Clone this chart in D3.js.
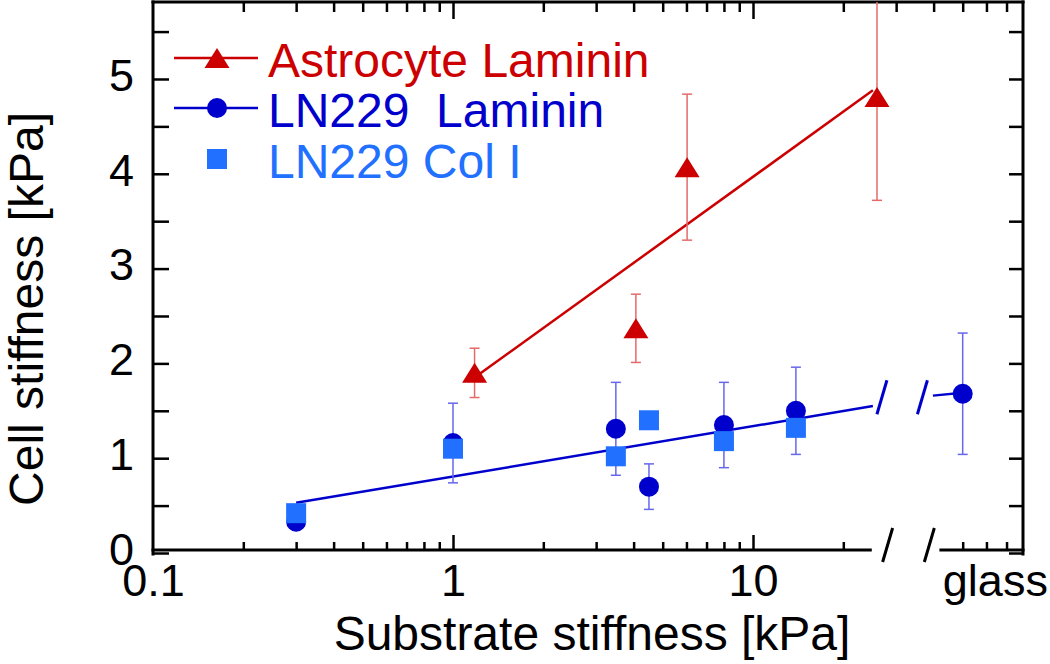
<!DOCTYPE html>
<html>
<head>
<meta charset="utf-8">
<script src="https://cdn.jsdelivr.net/npm/d3@7"></script>
<style>
  html, body { margin: 0; padding: 0; background: #fff; }
  svg { display: block; font-family: "Liberation Sans", Arial, Helvetica, sans-serif; }
</style>
</head>
<body>
<svg id="chart" width="1050" height="664"></svg>
<script>
// ---------- data ----------
const astroX   = [1.18, 4.07, 6.03, 25.9];
const astroY   = [1.90, 2.37, 4.07, 4.81];
const astroErr = [0.26, 0.36, 0.77, 1.09];

const lamX   = [0.3, 1, 3.49, 4.5, 8.0, 13.9, 50];
const lamY   = [0.33, 1.16, 1.31, 0.70, 1.35, 1.50, 1.68];
const lamErr = [0, 0.42, 0.49, 0.24, 0.45, 0.46, 0.64];

const colX = [0.3, 1, 3.49, 4.5, 8.0, 13.9];
const colY = [0.42, 1.10, 1.02, 1.40, 1.18, 1.32];

const astroFitX = [1.18, 25.1], astroFitY = [1.85, 4.88];
const lamFitX   = [0.3, 25.1],  lamFitY   = [0.53, 1.55];
const lamGlassFitX = [39.8, 50], lamGlassFitY = [1.66, 1.69];

const seriesNames = ["Astrocyte Laminin", "LN229  Laminin", "LN229 Col I"];

const yTickValues = [0, 0.5, 1, 1.5, 2, 2.5, 3, 3.5, 4, 4.5, 5, 5.5];
const xLabelValues = [0.1, 1, 10, 64];
const xLabelText   = ["0.1", "1", "10", "glass"];
const xMajorTicks  = [1, 10];
const xMinorTop    = [0.2,0.3,0.4,0.5,0.6,0.7,0.8,0.9,2,3,4,5,6,7,8,9,20,30,40,50,60,70];
const xMinorBottom = [0.2,0.3,0.4,0.5,0.6,0.7,0.8,0.9,2,3,4,5,6,7,8,9,20,50,60,70];
const axisBreakX   = [24.6, 42.3];       // gap in bottom axis
const axisSlashX   = [28.1, 38.7];       // break slashes on axis
const lineSlashX   = [26.9, 36.7];       // break slashes on LN229 line
const lineSlashY   = 1.58;

// ---------- colours ----------
const RED = "#cc0000", RED_ERR = "#e46a6a";
const BLUE = "#0000cc", BLUE_ERR = "#6767ec";
const LBLUE = "#2170ff";

// ---------- layout ----------
const L = 153, R = 1023, T = 2, B = 550;
const svg = d3.select("#chart");

const x = d3.scaleLog().domain([0.1, 79.43]).range([L, R]);
const y = d3.scaleLinear().domain([0.0316, 5.812]).range([B, T]);

svg.append("defs").append("clipPath").attr("id", "clip")
  .append("rect").attr("x", L).attr("y", T).attr("width", R - L).attr("height", B - T);

// ---------- axes / frame ----------
const axisColor = "#000";
// left axis ticks + labels
const gl = svg.append("g").attr("transform", `translate(${L},0)`)
  .call(d3.axisLeft(y).tickValues(yTickValues).tickSize(-16).tickPadding(19)
        .tickFormat(d => Number.isInteger(d) ? String(d) : ""));
gl.select(".domain").remove();
gl.selectAll(".tick line").attr("stroke", axisColor).attr("stroke-width", 2.5);
gl.selectAll(".tick text").attr("font-size", 45).attr("fill", "#000").attr("dy", "0.25em")
  .attr("font-family", "Liberation Sans, Arial, sans-serif");

// right axis ticks
const gr = svg.append("g").attr("transform", `translate(${R},0)`)
  .call(d3.axisRight(y).tickValues(yTickValues).tickSize(-14).tickFormat(""));
gr.select(".domain").remove();
gr.selectAll(".tick line").attr("stroke", axisColor).attr("stroke-width", 2.5);

// top axis ticks
const gtMin = svg.append("g").attr("transform", `translate(0,${T})`)
  .call(d3.axisTop(x).tickValues(xMinorTop).tickSize(-10).tickFormat(""));
const gtMaj = svg.append("g").attr("transform", `translate(0,${T})`)
  .call(d3.axisTop(x).tickValues(xMajorTicks).tickSize(-17).tickFormat(""));
[gtMin, gtMaj].forEach(g => {
  g.select(".domain").remove();
  g.selectAll(".tick line").attr("stroke", axisColor).attr("stroke-width", 2.5);
});

// bottom axis ticks
const gbMin = svg.append("g").attr("transform", `translate(0,${B})`)
  .call(d3.axisBottom(x).tickValues(xMinorBottom).tickSize(-8).tickFormat(""));
const gbMaj = svg.append("g").attr("transform", `translate(0,${B})`)
  .call(d3.axisBottom(x).tickValues(xMajorTicks).tickSize(-15).tickFormat(""));
[gbMin, gbMaj].forEach(g => {
  g.select(".domain").remove();
  g.selectAll(".tick line").attr("stroke", axisColor).attr("stroke-width", 2.5);
});
// bottom labels
const gbLab = svg.append("g").attr("transform", `translate(0,${B})`)
  .call(d3.axisBottom(x).tickValues(xLabelValues).tickSize(0).tickPadding(0)
        .tickFormat((d, i) => xLabelText[i]));
gbLab.select(".domain").remove();
gbLab.selectAll(".tick line").remove();
gbLab.selectAll(".tick text").attr("font-size", 45).attr("fill", "#000")
  .attr("dy", null).attr("y", 46)
  .attr("font-family", "Liberation Sans, Arial, sans-serif");

// frame
const frame = svg.append("g").attr("stroke", axisColor).attr("stroke-width", 3).attr("fill", "none")
  .attr("stroke-linecap", "square");
frame.append("line").attr("x1", L).attr("x2", R).attr("y1", T).attr("y2", T);
frame.append("line").attr("x1", L).attr("x2", L).attr("y1", T).attr("y2", y(0) + 1);
frame.append("line").attr("x1", R).attr("x2", R).attr("y1", T).attr("y2", y(0) + 1);
frame.append("line").attr("x1", L).attr("x2", x(axisBreakX[0])).attr("y1", B).attr("y2", B);
frame.append("line").attr("x1", x(axisBreakX[1])).attr("x2", R).attr("y1", B).attr("y2", B);
// axis break slashes
const slashes = svg.append("g").attr("stroke", axisColor).attr("stroke-width", 3);
axisSlashX.forEach(v => {
  const cx = x(v), cy = B - 5;
  slashes.append("line").attr("x1", cx - 5).attr("y1", cy + 17).attr("x2", cx + 5).attr("y2", cy - 17);
});

// axis titles
svg.append("text").attr("x", 592).attr("y", 650).attr("text-anchor", "middle")
  .attr("font-size", 48).attr("fill", "#000").text("Substrate stiffness [kPa]");
svg.append("text").attr("transform", "translate(43,309) rotate(-90)").attr("text-anchor", "middle")
  .attr("font-size", 48).attr("fill", "#000").text("Cell stiffness [kPa]");

// ---------- plot ----------
const plot = svg.append("g").attr("clip-path", "url(#clip)");
const line = d3.line().x(d => x(d[0])).y(d => y(d[1]));

// fit lines
plot.append("path").datum(d3.zip(astroFitX, astroFitY)).attr("d", line)
  .attr("stroke", RED).attr("stroke-width", 2.5).attr("fill", "none");
plot.append("path").datum(d3.zip(lamFitX, lamFitY)).attr("d", line)
  .attr("stroke", BLUE).attr("stroke-width", 2.5).attr("fill", "none");
plot.append("path").datum(d3.zip(lamGlassFitX, lamGlassFitY)).attr("d", line)
  .attr("stroke", BLUE).attr("stroke-width", 2.5).attr("fill", "none");
// line break slashes
lineSlashX.forEach(v => {
  const cx = x(v), cy = y(lineSlashY) - 6;
  plot.append("line").attr("x1", cx - 5).attr("y1", cy + 17).attr("x2", cx + 5).attr("y2", cy - 17)
    .attr("stroke", BLUE).attr("stroke-width", 3);
});

// error bars
function errBars(xs, ys, es, color) {
  const g = plot.append("g").attr("stroke", color).attr("stroke-width", 1.5);
  xs.forEach((xv, i) => {
    if (!es[i]) return;
    const px = x(xv), top = y(ys[i] + es[i]), bot = y(ys[i] - es[i]);
    g.append("line").attr("x1", px).attr("x2", px).attr("y1", top).attr("y2", bot);
    g.append("line").attr("x1", px - 5).attr("x2", px + 5).attr("y1", top).attr("y2", top);
    g.append("line").attr("x1", px - 5).attr("x2", px + 5).attr("y1", bot).attr("y2", bot);
  });
}
errBars(astroX, astroY, astroErr, RED_ERR);
errBars(lamX, lamY, lamErr, BLUE_ERR);

// markers
function tri(cx, cy) {
  const w = 25, h = 20;
  return `M${cx},${cy - h / 2}L${cx + w / 2},${cy + h / 2}L${cx - w / 2},${cy + h / 2}Z`;
}
plot.selectAll(".lam").data(d3.zip(lamX, lamY)).join("circle")
  .attr("cx", d => x(d[0])).attr("cy", d => y(d[1])).attr("r", 10).attr("fill", BLUE);
plot.selectAll(".col").data(d3.zip(colX, colY)).join("rect")
  .attr("x", d => x(d[0]) - 10).attr("y", d => y(d[1]) - 10)
  .attr("width", 20).attr("height", 20).attr("fill", LBLUE);
plot.selectAll(".astro").data(d3.zip(astroX, astroY)).join("path")
  .attr("d", d => tri(x(d[0]), y(d[1]))).attr("fill", RED);

// ---------- legend ----------
const leg = svg.append("g");
const legRows = [
  { name: seriesNames[0], color: RED, marker: "tri", line: true, ly: 58, ty: 77 },
  { name: seriesNames[1], color: BLUE, marker: "circle", line: true, ly: 108, ty: 127 },
  { name: seriesNames[2], color: LBLUE, marker: "rect", line: false, ly: 159, ty: 178 }
];
legRows.forEach(r => {
  if (r.line) leg.append("line").attr("x1", 174).attr("x2", 258).attr("y1", r.ly).attr("y2", r.ly)
    .attr("stroke", r.color).attr("stroke-width", 2.5);
  if (r.marker === "tri") leg.append("path").attr("d", tri(217, r.ly)).attr("fill", r.color);
  if (r.marker === "circle") leg.append("circle").attr("cx", 217).attr("cy", r.ly).attr("r", 10).attr("fill", r.color);
  if (r.marker === "rect") leg.append("rect").attr("x", 207).attr("y", r.ly - 10).attr("width", 20).attr("height", 20).attr("fill", r.color);
  leg.append("text").attr("x", 268).attr("y", r.ty).attr("font-size", 48).attr("fill", r.color)
    .attr("xml:space", "preserve").style("white-space", "pre").text(r.name);
});
</script>
</body>
</html>
